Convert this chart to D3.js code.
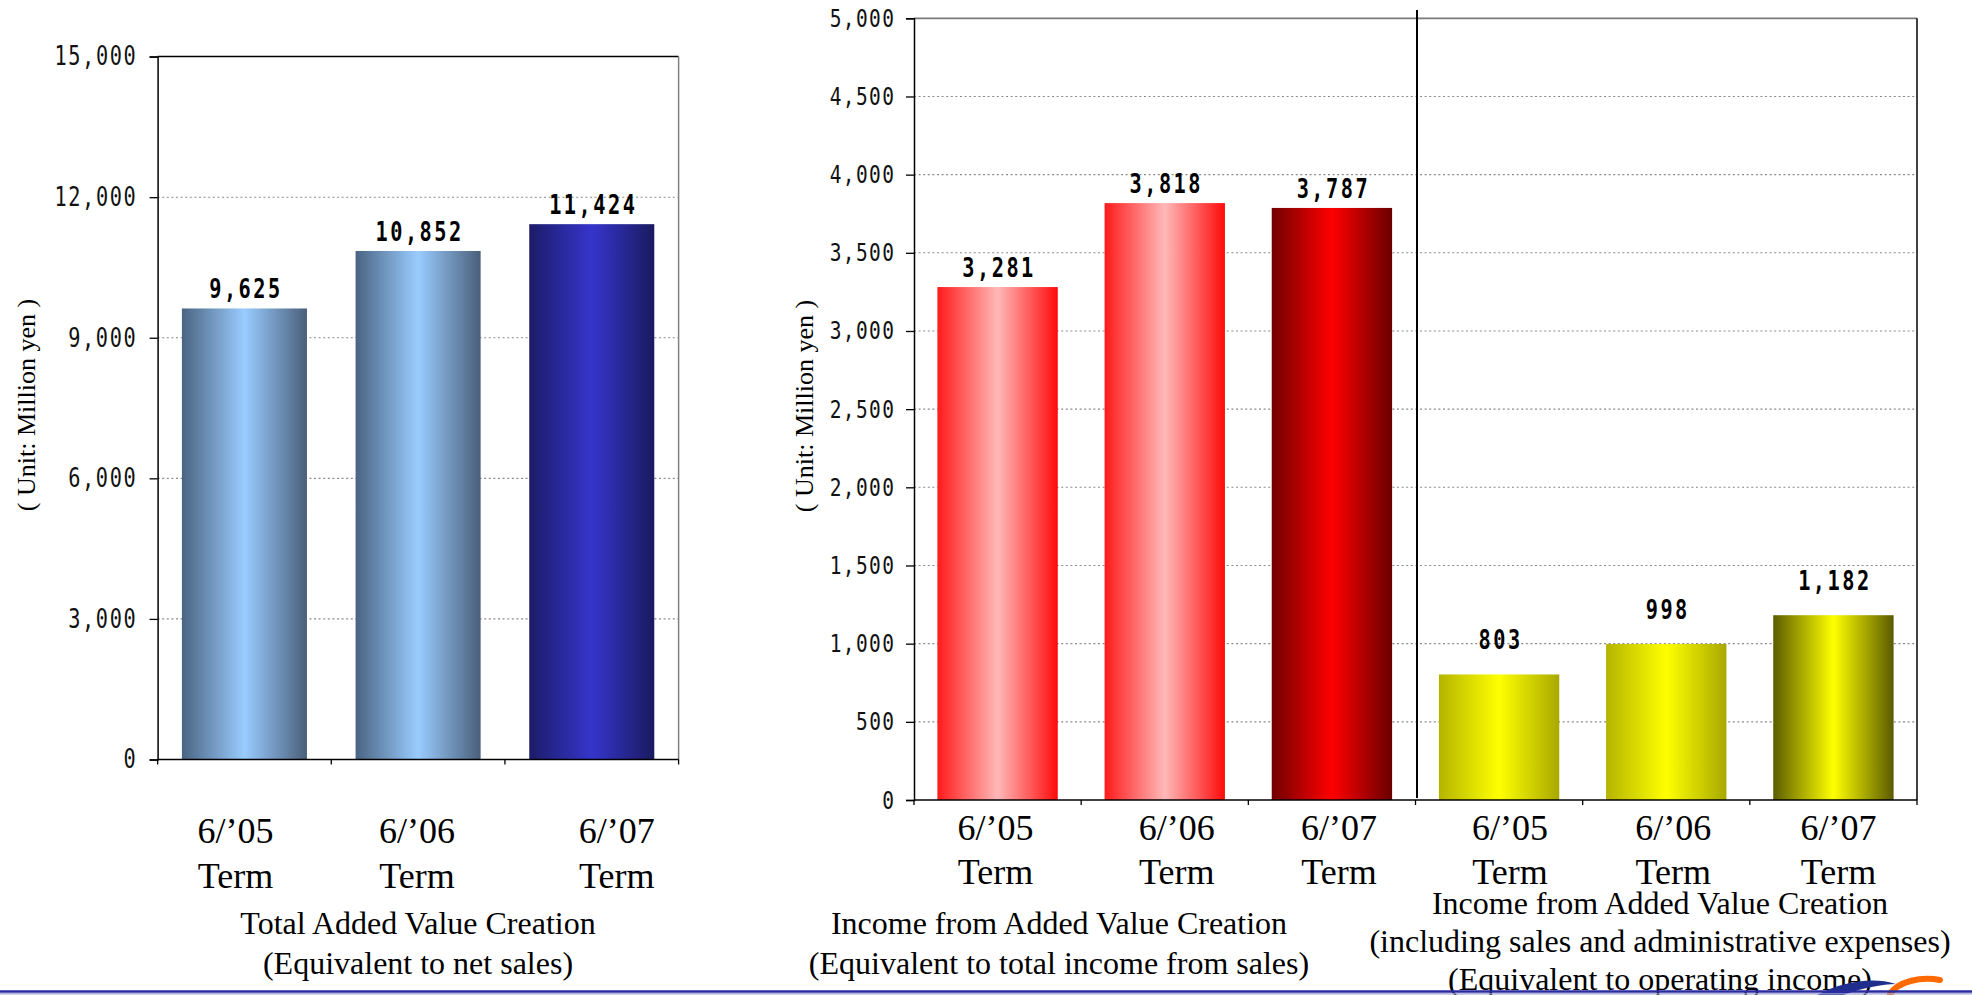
<!DOCTYPE html>
<html>
<head>
<meta charset="utf-8">
<script src="https://cdn.jsdelivr.net/npm/d3@7"></script>
<style>
  html, body { margin: 0; padding: 0; background: #ffffff; }
  svg { display: block; }
</style>
</head>
<body>
<svg id="chart" width="1972" height="995"></svg>
<script>
// ---- data ----
const terms = ["6/\u201905", "6/\u201906", "6/\u201907"];
const termLine2 = "Term";
const totalAddedValue = [9625, 10852, 11424];
const incomeAddedValue = [3281, 3818, 3787];
const incomeInclSGA = [803, 998, 1182];
const leftTicks = [0, 3000, 6000, 9000, 12000, 15000];
const rightTicks = [0, 500, 1000, 1500, 2000, 2500, 3000, 3500, 4000, 4500, 5000];
const unitLabel = "( Unit: Million yen )";
const leftTitle = ["Total Added Value Creation", "(Equivalent to net sales)"];
const midTitle = ["Income from Added Value Creation", "(Equivalent to total income from sales)"];
const rightTitle = ["Income from Added Value Creation", "(including sales and administrative expenses)", "(Equivalent to operating income)"];

// ---- layout ----
const svg = d3.select("#chart");
const defs = svg.append("defs");
const fmt = d3.format(",");
const serif = "'Liberation Serif', 'Times New Roman', serif";
const mono = "'DejaVu Sans Mono', 'Liberation Mono', monospace";
const squeeze = 0.78;   // horizontal compression for the narrow numeric face

// horizontal bar gradients: edge colour -> centre colour -> edge colour
function gradient(id, edgeL, mid, edgeR) {
  const g = defs.append("linearGradient").attr("id", id)
    .attr("x1", "0%").attr("x2", "100%").attr("y1", "0%").attr("y2", "0%");
  g.append("stop").attr("offset", "0%").attr("stop-color", edgeL);
  g.append("stop").attr("offset", "50%").attr("stop-color", mid);
  g.append("stop").attr("offset", "100%").attr("stop-color", edgeR);
  return `url(#${id})`;
}
const gBlueLight = gradient("blueLight", "#4a6482", "#99ccff", "#4a5f7a");
const gBlueDark = gradient("blueDark", "#1c1c68", "#3535cc", "#1a1a60");
const gRedLight = gradient("redLight", "#ff1a1a", "#ffb8b8", "#ff0a0a");
const gRedDark = gradient("redDark", "#700000", "#ff0000", "#6a0000");
const gYelLight = gradient("yelLight", "#b4b400", "#ffff00", "#a8a800");
const gYelDark = gradient("yelDark", "#5c5c00", "#ffff00", "#5a5a00");

function gridlines(g, x0, x1, y, ticks) {
  g.append("g").selectAll("line").data(ticks.filter(t => t > 0)).join("line")
    .attr("x1", x0).attr("x2", x1)
    .attr("y1", d => y(d)).attr("y2", d => y(d))
    .attr("stroke", "#8a8a8a").attr("stroke-width", 1.1)
    .attr("stroke-dasharray", "2,2.6");
}

function yAxis(g, x0, y, ticks, fontSize, pad, spacing) {
  const tickSize = 8;
  const ax = g.append("g").attr("transform", `translate(${x0},0)`)
    .call(d3.axisLeft(y).tickValues(ticks).tickFormat(fmt).tickSize(tickSize).tickPadding(pad));
  ax.select(".domain").attr("stroke", "#000").attr("stroke-width", 1.5);
  ax.selectAll(".tick line").attr("stroke", "#000").attr("stroke-width", 1.3);
  ax.selectAll(".tick text")
    .attr("font-size", fontSize).attr("font-family", mono).attr("fill", "#111")
    .attr("letter-spacing", spacing)
    .attr("x", -(tickSize + pad - spacing * squeeze) / squeeze)
    .attr("transform", `scale(${squeeze},1)`);
  return ax;
}

function catTicks(g, x, yBase, n) {
  const x0 = x.range()[0], step = x.step();
  g.append("line").attr("x1", x0).attr("x2", x0 + n * step)
    .attr("y1", yBase).attr("y2", yBase).attr("stroke", "#000").attr("stroke-width", 1.5);
  g.append("g").selectAll("line").data(d3.range(n + 1)).join("line")
    .attr("x1", i => x0 + i * step).attr("x2", i => x0 + i * step)
    .attr("y1", yBase).attr("y2", yBase + 5)
    .attr("stroke", "#000").attr("stroke-width", 1.3);
}

function bars(g, x, y, keys, values, fills, labelGap) {
  g.append("g").selectAll("rect").data(values).join("rect")
    .attr("x", (d, i) => x(keys[i]))
    .attr("width", x.bandwidth())
    .attr("y", d => y(d))
    .attr("height", d => y(0) - y(d))
    .attr("fill", (d, i) => fills[i]);
  g.append("g").selectAll("text").data(values).join("text")
    .attr("transform", `scale(${squeeze},1)`)
    .attr("x", (d, i) => (x(keys[i]) + x.bandwidth() / 2 + 1.5) / squeeze)
    .attr("y", d => y(d) - labelGap)
    .attr("text-anchor", "middle")
    .attr("font-family", mono).attr("font-weight", "bold").attr("font-size", 26)
    .attr("letter-spacing", 3.2)
    .attr("fill", "#000")
    .text(d => fmt(d));
}

function catLabels(g, x, keys, shifts, y1, y2) {
  const lab = g.append("g").selectAll("text").data(keys).join("text")
    .attr("text-anchor", "middle")
    .attr("font-family", serif).attr("font-size", 36).attr("fill", "#000");
  lab.append("tspan")
    .attr("x", (d, i) => x(d) + x.bandwidth() / 2 + shifts[i]).attr("y", y1)
    .text((d, i) => terms[i % terms.length]);
  lab.append("tspan")
    .attr("x", (d, i) => x(d) + x.bandwidth() / 2 + shifts[i]).attr("y", y2)
    .text(termLine2);
}

function titleBlock(g, cx, lines, y0, lineH) {
  g.append("g").selectAll("text").data(lines).join("text")
    .attr("x", cx).attr("y", (d, i) => y0 + i * lineH)
    .attr("text-anchor", "middle")
    .attr("font-family", serif).attr("font-size", 32).attr("fill", "#000")
    .text(d => d);
}

function unitText(g, cx, cy) {
  g.append("text")
    .attr("transform", `translate(${cx},${cy}) rotate(-90)`)
    .attr("text-anchor", "middle").attr("dominant-baseline", "central")
    .attr("font-family", serif).attr("font-size", 26).attr("fill", "#000")
    .text(unitLabel);
}

// ---- left panel: total added value ----
{
  const g = svg.append("g");
  const keysL = terms.map((t, i) => "L" + i);
  const x = d3.scaleBand().domain(keysL).range([157.6, 678.6]).paddingInner(0.28).paddingOuter(0.14);
  const y = d3.scaleLinear().domain([0, 15000]).range([759.5, 56.6]);

  gridlines(g, 157.6, 678.6, y, leftTicks.filter(t => t < 15000));
  // frame: top border and right border
  g.append("line").attr("x1", 157.6).attr("x2", 678.6).attr("y1", y(15000)).attr("y2", y(15000))
    .attr("stroke", "#000").attr("stroke-width", 1.5);
  g.append("line").attr("x1", 678.6).attr("x2", 678.6).attr("y1", y(15000)).attr("y2", y(0))
    .attr("stroke", "#808080").attr("stroke-width", 1.5);

  bars(g, x, y, keysL, totalAddedValue, [gBlueLight, gBlueLight, gBlueDark], 10);
  yAxis(g, 157.6, y, leftTicks, 26, 14, 2);
  catTicks(g, x, y(0), keysL.length);
  catLabels(g, x, keysL, [-9, -1, 25], 843, 888);
  titleBlock(g, 418, leftTitle, 934, 40);
  unitText(g, 26, 405);
}

// ---- right panel: income from added value (two groups on one axis) ----
{
  const g = svg.append("g");
  const keysA = terms.map((t, i) => "A" + i);
  const keysB = terms.map((t, i) => "B" + i);
  const keysR = keysA.concat(keysB);
  const x = d3.scaleBand().domain(keysR).range([914, 1917]).paddingInner(0.28).paddingOuter(0.14);
  const y = d3.scaleLinear().domain([0, 5000]).range([800, 18.3]);
  const divX = x.range()[0] + 3 * x.step();

  gridlines(g, 914, 1917, y, rightTicks.filter(t => t < 5000));
  // frame: top line, right border, group divider
  g.append("line").attr("x1", 914).attr("x2", 1917).attr("y1", y(5000)).attr("y2", y(5000))
    .attr("stroke", "#7a7a7a").attr("stroke-width", 1.8);
  g.append("line").attr("x1", 1917).attr("x2", 1917).attr("y1", y(5000)).attr("y2", y(0))
    .attr("stroke", "#000").attr("stroke-width", 1.5);
  g.append("line").attr("x1", divX + 1.5).attr("x2", divX + 1.5).attr("y1", 10).attr("y2", y(0) - 2)
    .attr("stroke", "#000").attr("stroke-width", 2);

  bars(g, x, y, keysA, incomeAddedValue, [gRedLight, gRedLight, gRedDark], 10);
  bars(g, x, y, keysB, incomeInclSGA, [gYelLight, gYelLight, gYelDark], 25);
  yAxis(g, 914, y, rightTicks, 25, 12, 1.8);
  catTicks(g, x, y(0), keysR.length);
  catLabels(g, x, keysR, [-2, 12, 7, 11, 7, 5], 840, 884);
  titleBlock(g, 1059, midTitle, 934, 40);
  unitText(g, 804, 406);

  // corner emblem, partly hidden at the page edge
  const logo = svg.append("g");
  logo.append("path")
    .attr("d", "M1812,998 C1838,982 1872,976 1896,984 C1880,984 1852,990 1832,1000 Z")
    .attr("fill", "#1f2e8c");
  logo.append("path")
    .attr("d", "M1890,994 C1898,982 1920,976 1940,980")
    .attr("fill", "none").attr("stroke", "#ff6a00").attr("stroke-width", 6).attr("stroke-linecap", "round");

  titleBlock(g, 1660, rightTitle, 914, 38);
}

// ---- footer rule ----
svg.append("line").attr("x1", 0).attr("x2", 1972).attr("y1", 991.5).attr("y2", 991.5)
  .attr("stroke", "#2b2ba0").attr("stroke-width", 2.5);
svg.append("line").attr("x1", 0).attr("x2", 1972).attr("y1", 993.8).attr("y2", 993.8)
  .attr("stroke", "#a0a0d8").attr("stroke-width", 1.2);
</script>
</body>
</html>
